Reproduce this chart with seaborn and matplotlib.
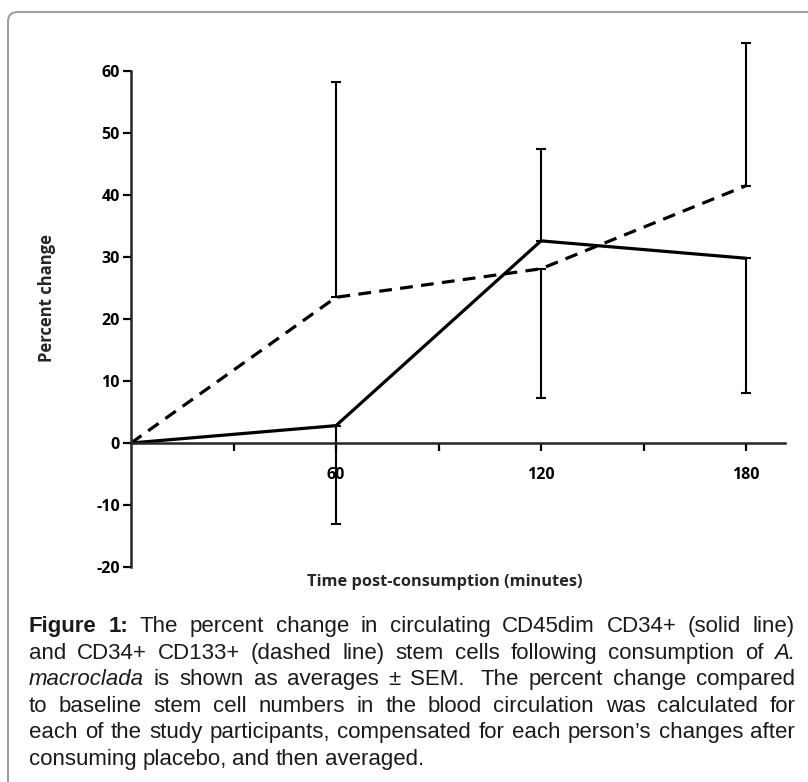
import numpy as np
import pandas as pd
import seaborn as sns
import matplotlib
matplotlib.use("Agg")
import matplotlib.pyplot as plt
from matplotlib.patches import FancyBboxPatch

# data
time_min = [0, 60, 120, 180]
cd45_cd34 = [0, 2.8, 32.6, 29.8]      # solid line
cd34_cd133 = [0, 23.5, 28.1, 41.5]    # dashed line
# SEM bars drawn on one side only (-1 down, +1 up), at 60/120/180
err_time = [60, 120, 180]
cd45_sem = [15.9, 14.9, 21.8]
cd45_side = [-1, 1, -1]
cd133_sem = [34.7, 20.8, 23.0]
cd133_side = [1, -1, 1]

y_ticks = [-20, -10, 0, 10, 20, 30, 40, 50, 60]
x_ticks = [30, 60, 90, 120, 150, 180]
x_ticklabels = ["", "60", "", "120", "", "180"]

caption = [
    [("Figure", "bold", "normal"), ("1:", "bold", "normal"), ("The", "normal", "normal"),
     ("percent", "normal", "normal"), ("change", "normal", "normal"), ("in", "normal", "normal"),
     ("circulating", "normal", "normal"), ("CD45dim", "normal", "normal"), ("CD34+", "normal", "normal"),
     ("(solid", "normal", "normal"), ("line)", "normal", "normal")],
    [("and", "normal", "normal"), ("CD34+", "normal", "normal"), ("CD133+", "normal", "normal"),
     ("(dashed", "normal", "normal"), ("line)", "normal", "normal"), ("stem", "normal", "normal"),
     ("cells", "normal", "normal"), ("following", "normal", "normal"), ("consumption", "normal", "normal"),
     ("of", "normal", "normal"), ("A.", "normal", "italic")],
    [("macroclada", "normal", "italic"), ("is", "normal", "normal"), ("shown", "normal", "normal"),
     ("as", "normal", "normal"), ("averages", "normal", "normal"), ("±", "normal", "normal"),
     ("SEM.\u00a0", "normal", "normal"), ("The", "normal", "normal"), ("percent", "normal", "normal"),
     ("change", "normal", "normal"), ("compared", "normal", "normal")],
    [(w, "normal", "normal") for w in "to baseline stem cell numbers in the blood circulation was calculated for".split()],
    [(w, "normal", "normal") for w in "each of the study participants, compensated for each person\u2019s changes after".split()],
    [(w, "normal", "normal") for w in "consuming placebo, and then averaged.".split()],
]

df = pd.DataFrame({
    "time": time_min * 2,
    "pct": cd45_cd34 + cd34_cd133,
    "cells": ["CD45dim CD34+"] * 4 + ["CD34+ CD133+"] * 4,
})

sns.set_style("ticks")
plt.rcParams["font.family"] = ["Open Sans", "DejaVu Sans"]

W, H = 808, 782
fig = plt.figure(figsize=(W / 100, H / 100), dpi=100)
ax = fig.add_axes([131 / W, (H - 573.2) / H, 656 / W, 539.4 / H])

sns.lineplot(data=df, x="time", y="pct", style="cells", color="black", linewidth=2.3,
             dashes={"CD45dim CD34+": "", "CD34+ CD133+": (4, 2.6)}, legend=False, ax=ax)

for vals, sem, side in [(cd45_cd34, cd45_sem, cd45_side), (cd34_cd133, cd133_sem, cd133_side)]:
    y = [vals[time_min.index(t)] for t in err_time]
    lower = [s if d < 0 else 0 for s, d in zip(sem, side)]
    upper = [s if d > 0 else 0 for s, d in zip(sem, side)]
    ax.errorbar(err_time, y, yerr=[lower, upper], fmt="none", ecolor="black",
                elinewidth=1.5, capsize=3.4, capthick=1.5)

ax.set_xlim(0, 192)
ax.set_ylim(-21, 66)
ax.spines["bottom"].set_position(("data", 0))
ax.spines["left"].set_bounds(-20, 60)
ax.spines["bottom"].set_bounds(0, 191.4)
for s in ["left", "bottom"]:
    ax.spines[s].set_linewidth(1.8)
sns.despine(ax=ax)

ax.set_yticks(y_ticks)
ax.set_yticklabels([str(v) for v in y_ticks], fontweight="bold", fontsize=11.5)
ax.set_xticks(x_ticks)
ax.set_xticklabels(x_ticklabels, fontweight="bold", fontsize=11.5)
ax.tick_params(axis="both", direction="out", length=6, width=1.6, colors="black")
ax.tick_params(axis="y", pad=2)
ax.tick_params(axis="x", pad=11)

ax.set_xlabel("Time post-consumption (minutes)", fontweight="bold", fontsize=11.8)
ax.set_ylabel("Percent change", fontweight="bold", fontsize=12)
ax.xaxis.label.set_va("center")
ax.yaxis.label.set_va("center")
ax.xaxis.set_label_coords(0.479, -0.016)
ax.yaxis.set_label_coords(-0.128, 0.51)

# rounded frame around the figure panel
frame = FancyBboxPatch((8 / W, -0.05), 1.1, 1.05 - 12 / H, boxstyle="round,pad=0,rounding_size=0.012",
                       transform=fig.transFigure, facecolor="none", edgecolor="#a0a0a0", linewidth=1.5)
fig.patches.append(frame)

# justified caption
fig.canvas.draw()
renderer = fig.canvas.get_renderer()
left_px, right_px = 29, 795
base0, step = 632, 26.6
cap_fs = 16
for i, line in enumerate(caption):
    yb = 1 - (base0 + i * step) / H
    texts = []
    for word, wt, st in line:
        t = fig.text(0, yb, word, fontsize=cap_fs, fontweight=wt, fontstyle=st,
                     family=["Liberation Sans Narrow", "Liberation Sans"], color="#1a1a1a", va="baseline")
        texts.append(t)
    widths = [t.get_window_extent(renderer).width for t in texts]
    if i == len(caption) - 1:
        gap = 0.26 * cap_fs * 100 / 72
    else:
        gap = (right_px - left_px - sum(widths)) / (len(widths) - 1)
    x = left_px
    for t, w in zip(texts, widths):
        t.set_x(x / W)
        x += w + gap

fig.savefig("out.png", dpi=100)
